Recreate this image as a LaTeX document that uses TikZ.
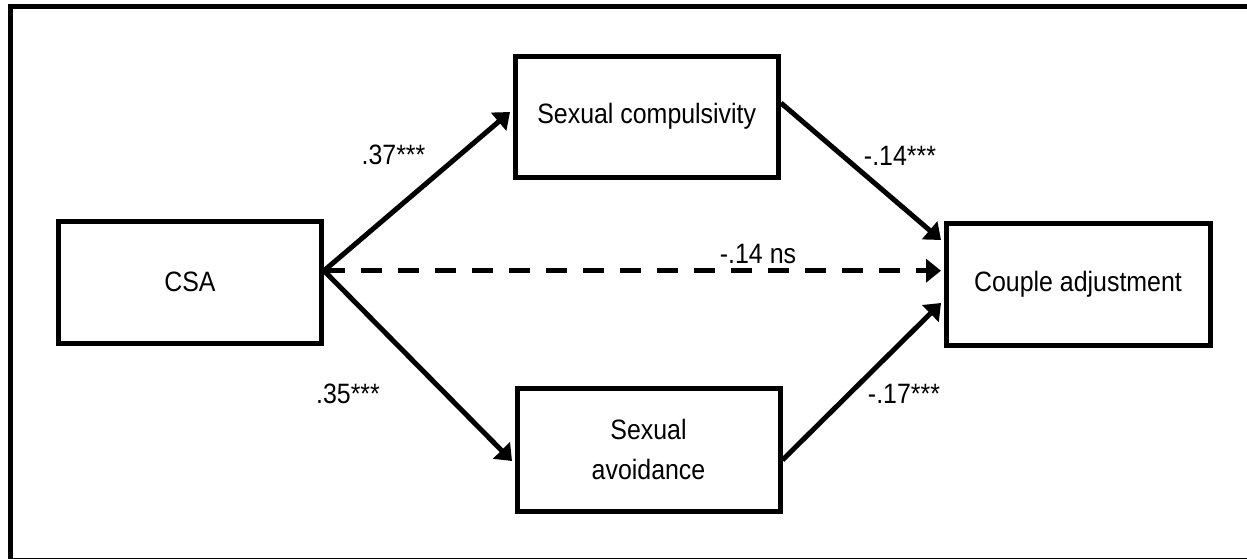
\documentclass[tikz,border=0pt]{standalone}
\usepackage{fontspec}
\setmainfont[FakeStretch=0.89]{Liberation Sans}
\usetikzlibrary{arrows.meta}
\tikzset{
  varbox/.style={draw=black, line width=5pt, inner sep=0pt, align=center,
    font=\fontsize{28}{40}\selectfont},
  coef/.style={inner sep=0pt, font=\fontsize{28}{34}\selectfont},
  path/.style={line width=5pt, -{Triangle[length=15pt,width=23pt]}},
  nspath/.style={path, dash pattern=on 21pt off 16pt},
}
\begin{document}
\begin{tikzpicture}[x=1pt,y=-1pt]
\useasboundingbox (0,0) rectangle (1247,558);
\draw[line width=5pt] (10,6.5) rectangle (1253,560);

\node[varbox, minimum width=263pt, minimum height=122pt] (csa) at (190,282) {CSA};
\node[varbox, minimum width=263.5pt, minimum height=121.5pt] (sc) at (646.75,116.75) {Sexual compulsivity};
\node[varbox, minimum width=264pt, minimum height=121.5pt] (ca) at (1078,284.25) {Couple adjustment};
\node[varbox, minimum width=263pt, minimum height=122.5pt] (sa) at (648.5,449.75) {Sexual\\avoidance};

\draw[path] ([yshift=11.3pt]csa.east) -- ([xshift=-2.5pt,yshift=4.75pt]sc.west);
\draw[path] ([yshift=11.3pt]csa.east) -- ([xshift=-2.5pt,yshift=-11.25pt]sa.west);
\draw[nspath] ([yshift=11.3pt]csa.east) -- ([xshift=-2.5pt,yshift=13.55pt]ca.west);
\draw[path] ([yshift=13.75pt]sc.east) -- ([xshift=-2.5pt,yshift=44.25pt]ca.west);
\draw[path] ([yshift=-10.25pt]sa.east) -- ([xshift=-2.5pt,yshift=-18.75pt]ca.west);

\node[coef] (l1) at (393.5,154.5) {.37***};
\node[coef] (l2) at (900,155.5) {-.14***};
\node[coef] (l3) at (758,254) {-.14 ns};
\node[coef] (l4) at (348,394) {.35***};
\node[coef] (l5) at (904,394) {-.17***};
\end{tikzpicture}
\end{document}
